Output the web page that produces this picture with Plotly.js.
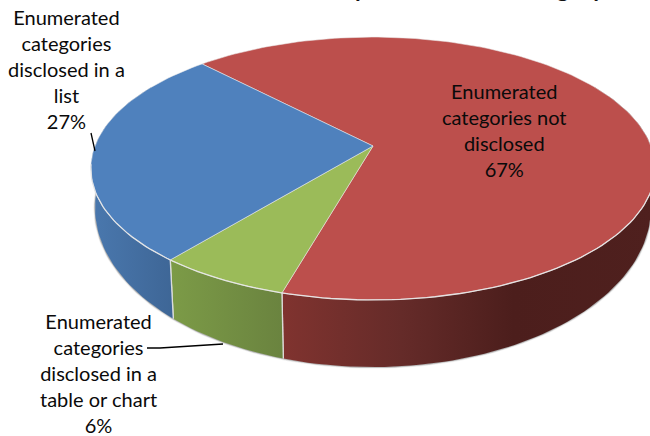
<!DOCTYPE html>
<html>
<head>
<meta charset="utf-8">
<script src="https://cdn.plot.ly/plotly-3.0.1.min.js"></script>
<style>html,body{margin:0;padding:0;background:#fff;overflow:hidden}#chart{width:650px;height:436px}</style>
</head>
<body>
<div id="chart"></div>
<script>
// Data (clockwise, starting at the red slice)
const categories = ["Enumerated<br>categories not<br>disclosed",
                    "Enumerated<br>categories<br>disclosed in a<br>table or chart",
                    "Enumerated<br>categories<br>disclosed in a<br>list"];
const shares = [66.55, 6.49, 26.96];
const topColors = ["#BC4F4C", "#9BBB59", "#4F81BD"];
const wallStops = [
  [[0, "#80332F"], [0.32, "#652B29"], [0.62, "#4C1E1C"], [1, "#4F201E"]],
  [[0, "#7C9B47"], [1, "#6A833F"]],
  [[0, "#4A78AE"], [1, "#3E6696"]]
];
const titleText = "Disclosure by Enumerated Category";

// Tilted, perspective view of the pie
const cx = 373, cy = 146, A = 278, B = 127.6, k = 0.1712, midY = 168.5;
const bottomMidY = 208, bottomScaleX = 0.985, bottomScaleY = 1.21;
const startAngle = -43.7;
function topPt(deg) {
  const r = deg * Math.PI / 180, u = Math.sin(r), v = Math.cos(r), w = 1 + k * v;
  return [cx + A * u / w, cy - B * v / w];
}
function botPt(deg) {
  const p = topPt(deg);
  return [cx + (p[0] - cx) * bottomScaleX, bottomMidY + (p[1] - midY) * bottomScaleY];
}
function arc(fn, a0, a1) {
  const n = Math.max(2, Math.ceil(Math.abs(a1 - a0) / 1.5)), out = [];
  for (let i = 0; i <= n; i++) out.push(fn(a0 + (a1 - a0) * i / n));
  return out;
}
const total = shares.reduce((a, b) => a + b, 0);
let acc = startAngle;
const spans = shares.map(s => { const a0 = acc; acc += s / total * 360; return [a0, acc]; });

const traces = [];
const poly = (pts, extra) => Object.assign({
  type: "scatter", mode: "lines", x: pts.map(p => p[0]), y: pts.map(p => p[1]),
  hoverinfo: "skip", showlegend: false, line: {width: 0}
}, extra);

// Soft shadow along the lower rim
[[3.4, "rgba(120,120,120,0.10)"], [2.2, "rgba(120,120,120,0.22)"], [1.2, "rgba(170,170,170,0.9)"]].forEach(s => {
  traces.push(poly(arc(botPt, 88, 275), {line: {width: s[0], color: s[1]}}));
});

// Walls (only the front part of each slice is visible)
spans.forEach((sp, i) => {
  const a0 = Math.max(sp[0], 60), a1 = Math.min(sp[1], 300);
  if (a1 <= a0) return;
  const upper = arc(topPt, a0, a1), lower = arc(botPt, a1, a0);
  const pts = upper.concat(lower); pts.push(upper[0]);
  traces.push(poly(pts, {
    fill: "toself", line: {width: 0},
    fillgradient: {type: "horizontal", colorscale: wallStops[i]}
  }));
  [a0, a1].forEach(a => {
    if (a > 60 && a < 300) {
      traces.push(poly([topPt(a), botPt(a)], {line: {width: 1.3, color: "rgba(225,225,225,0.9)"}}));
    }
  });
});

// Top faces
spans.forEach((sp, i) => {
  const pts = [[cx, cy]].concat(arc(topPt, sp[0], sp[1]));
  pts.push([cx, cy]);
  traces.push(poly(pts, {fill: "toself", fillcolor: topColors[i], line: {width: 1, color: "rgba(235,235,235,0.55)"}}));
});
// Highlight along the front top rim
traces.push(poly(arc(topPt, 105, 262), {line: {width: 1.3, color: "rgba(232,232,232,0.9)"}}));

const lab = (i, x, y) => ({
  xref: "x", yref: "y", x: x, y: y, xanchor: "center", yanchor: "middle", align: "center", showarrow: false,
  text: categories[i] + "<br>" + Math.round(shares[i] / total * 100) + "%",
  font: {family: "Lato, Carlito, Calibri, sans-serif", size: 20, color: "#0a0a0a"}
});

const layout = {
  width: 650, height: 436, margin: {l: 0, r: 0, t: 0, b: 0},
  paper_bgcolor: "#fff", plot_bgcolor: "#fff", showlegend: false,
  xaxis: {range: [0, 650], visible: false, fixedrange: true},
  yaxis: {range: [436, 0], visible: false, fixedrange: true},
  annotations: [
    lab(0, 504, 130), lab(1, 98, 373), lab(2, 66, 68.5),
    {xref: "x", yref: "y", x: 414, y: 0, yanchor: "bottom", xanchor: "center", yshift: -4.5, showarrow: false,
     text: "<b>" + titleText + "</b>", font: {family: "Lato, sans-serif", size: 24, color: "#111"}}
  ],
  shapes: [
    {type: "line", xref: "x", yref: "y", x0: 91, y0: 133, x1: 95, y1: 151, line: {color: "#000", width: 1.3}},
    {type: "path", xref: "x", yref: "y", path: "M147,348 L160,348 L223,344", line: {color: "#000", width: 1.3}}
  ]
};
Plotly.newPlot("chart", traces, layout, {displayModeBar: false, staticPlot: true});
</script>
</body>
</html>
